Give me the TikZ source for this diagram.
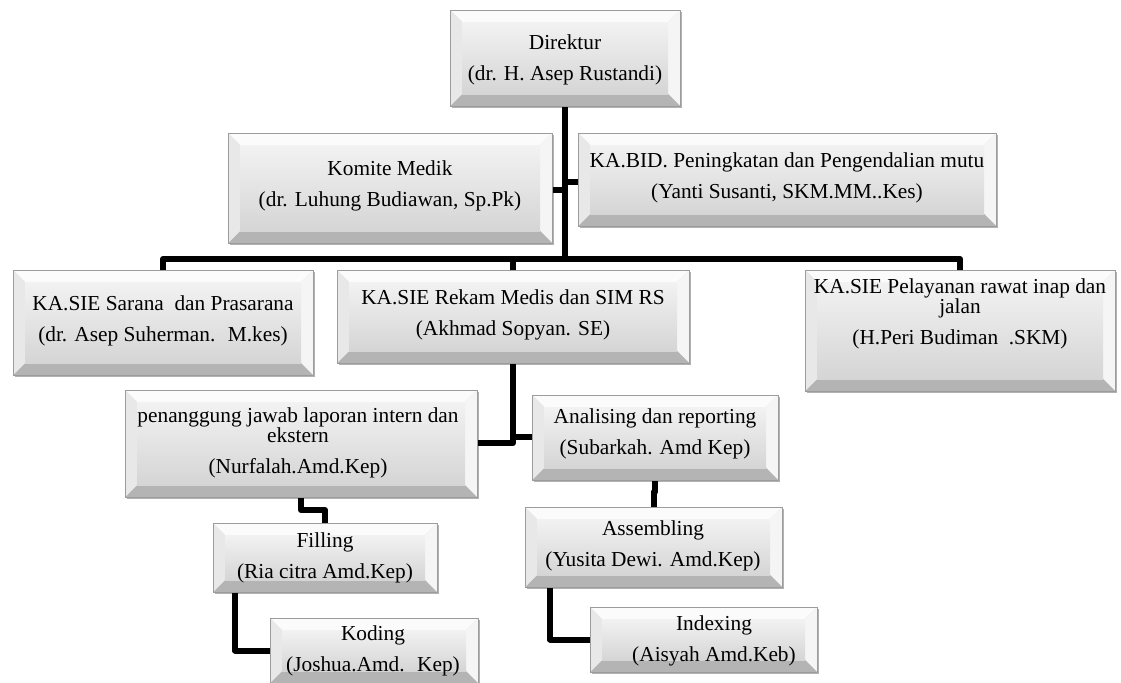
\documentclass[tikz,border=0pt]{standalone}
\usepackage{fontspec}
\setmainfont{Liberation Serif}
\usetikzlibrary{fit,shadows,calc}
\definecolor{bvT}{HTML}{FBFBFB}
\definecolor{bvL}{HTML}{E8E8E8}
\definecolor{bvR}{HTML}{F5F5F5}
\definecolor{bvB}{HTML}{B4B4B4}
\definecolor{faceTop}{HTML}{F2F2F2}
\definecolor{faceBot}{HTML}{D5D5D5}
\definecolor{bvEdge}{HTML}{9C9C9C}
\pgfdeclarelayer{background}
\pgfsetlayers{background,main}
\tikzset{
  bevbox/.style={draw=bvEdge, line width=0.5pt, inner sep=0pt, outer sep=0pt,
    fill=faceBot,
    drop shadow={shadow xshift=1.2pt, shadow yshift=-1.8pt, opacity=0.3, fill=black},
    path picture={
      \coordinate (pA) at (path picture bounding box.north west);
      \coordinate (pB) at (path picture bounding box.north east);
      \coordinate (pC) at (path picture bounding box.south east);
      \coordinate (pD) at (path picture bounding box.south west);
      \coordinate (qA) at ([shift={(9pt,-9pt)}]pA);
      \coordinate (qB) at ([shift={(-9pt,-9pt)}]pB);
      \coordinate (qC) at ([shift={(-9pt,9pt)}]pC);
      \coordinate (qD) at ([shift={(9pt,9pt)}]pD);
      \fill[bvT] (pA)--(pB)--(qB)--(qA)--cycle;
      \fill[bvR] (pB)--(pC)--(qC)--(qB)--cycle;
      \fill[bvB] (pC)--(pD)--(qD)--(qC)--cycle;
      \fill[bvL] (pD)--(pA)--(qA)--(qD)--cycle;
      \shade[top color=faceTop, bottom color=faceBot] (qA) rectangle (qC);
    }},
  txt/.style={align=center, inner sep=0pt, font=\fontsize{16}{15}\selectfont},
  conn/.style={line width=4.5pt, line join=round, draw=black}
}
\newcommand{\bx}[8]{%
  \node[bevbox, fit={(#2,#3) (#4,#5)}] (#1) {};
  \node[txt] (#1-t) at (#6,#7) {#8};
}
\begin{document}
\begin{tikzpicture}[x=0.75pt, y=-0.75pt]
\useasboundingbox (0,0) rectangle (1121,682);
\begin{pgfonlayer}{background}
  \fill[white] (0,0) rectangle (1121,682);
\end{pgfonlayer}

\bx{dir}{450}{10}{680}{106}{565}{60}{Direktur\\[8pt](dr. H. Asep Rustandi)}
\bx{kom}{228}{133}{552}{243}{390}{186}{Komite Medik\\[8pt](dr. Luhung Budiawan, Sp.Pk)}
\bx{kab}{578}{133}{996}{226}{787}{178}{KA.BID. Peningkatan dan Pengendalian mutu\\[8pt](Yanti Susanti, SKM.MM..Kes)}
\bx{sar}{13}{270}{313}{375}{163}{321}{KA.SIE Sarana~ dan Prasarana\\[8pt](dr. Asep Suherman.~ M.kes)}
\bx{rek}{337}{270}{689}{363}{513}{315}{KA.SIE Rekam Medis dan SIM RS\\[8pt](Akhmad Sopyan. SE)}
\bx{pel}{805}{270}{1115}{391}{960}{314}{KA.SIE Pelayanan rawat inap dan\\jalan\\[8pt](H.Peri Budiman~ .SKM)}
\bx{pen}{125}{390}{477}{497}{298}{443}{penanggung jawab laporan intern dan\\ekstern\\[8pt](Nurfalah.Amd.Kep)}
\bx{ana}{532}{395}{778}{480}{655}{434}{Analising dan reporting\\[8pt](Subarkah. Amd Kep)}
\bx{fil}{213}{523}{437}{592}{325}{558}{Filling\\[8pt](Ria citra Amd.Kep)}
\bx{ass}{525}{507}{782}{587}{653}{546}{Assembling\\[8pt](Yusita Dewi. Amd.Kep)}
\bx{kod}{270}{618}{478}{683}{373}{651}{Koding\\[8pt](Joshua.Amd.~ Kep)}
\bx{idx}{590}{607}{817}{672}{714}{641}{Indexing\\[8pt](Aisyah Amd.Keb)}

\coordinate (jTop) at (565,259);
\coordinate (jK) at (565,190);
\coordinate (jB) at (565,182);
\coordinate (jR1) at (513,443);
\coordinate (jR2) at (513,437);
\coordinate (jF) at (235,592);
\coordinate (jA) at (550,587);

\begin{pgfonlayer}{background}
  \draw[conn] (dir.south) -- (jTop);
  \draw[conn] (jK) -- (jK -| kom.east);
  \draw[conn] (jB) -- (jB -| kab.west);
  \draw[conn] (sar.north) |- (jTop) -| (pel.north);
  \draw[conn] (rek.north) -- (rek.north |- jTop);
  \draw[conn] (rek.south) -- (jR1) -- (jR1 -| pen.east);
  \draw[conn] (jR2) -- (jR2 -| ana.west);
  \draw[conn] (pen.south) -- ++(0,13) -| (fil.north);
  \draw[conn] (fil.south -| jF) |- (kod.west);
  \draw[conn] (ana.south) -- ++(0,12) -| (ass.north);
  \draw[conn] (ass.south -| jA) |- (idx.west);
\end{pgfonlayer}
\end{tikzpicture}
\end{document}
